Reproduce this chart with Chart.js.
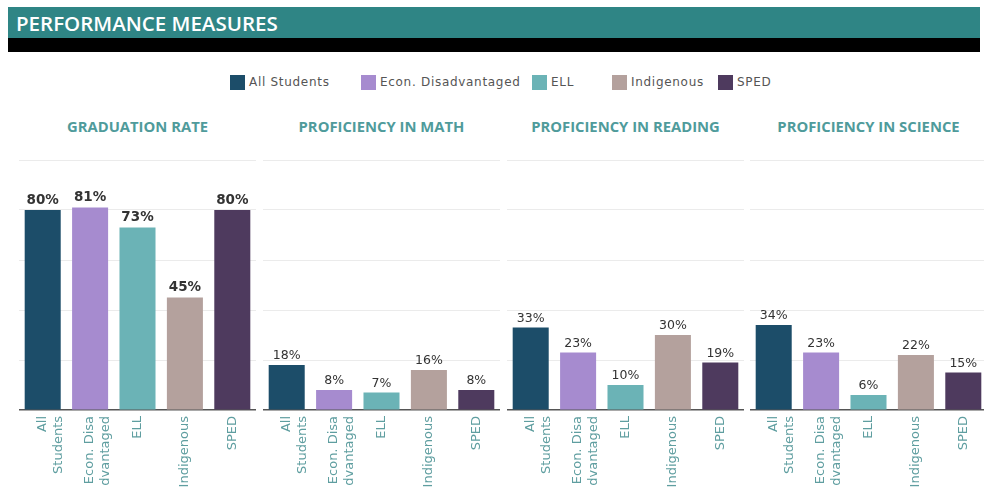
<!DOCTYPE html>
<html>
<head>
<meta charset="utf-8">
<script src="https://cdn.jsdelivr.net/npm/chart.js@4.4.1/dist/chart.umd.min.js"></script>
<style>
  html, body { margin: 0; padding: 0; background: #fff; }
  body { width: 984px; height: 498px; position: relative; overflow: hidden; font-family: "DejaVu Sans", sans-serif; }
  #header { position: absolute; left: 8px; top: 7px; width: 972px; height: 31px; background: #2f8585; }
  #header span { position: absolute; left: 8px; top: 2px; color: #fff; font: 600 20.5px "Open Sans", sans-serif; }
  #band { position: absolute; left: 8px; top: 38px; width: 972px; height: 14px; background: #000; }
  .legend-item { position: absolute; top: 75px; height: 15px; font-size: 12px; letter-spacing: 0.7px; color: #555; line-height: 15px; white-space: nowrap; }
  .legend-item i { display: inline-block; width: 15px; height: 15px; vertical-align: top; margin-right: 4px; }
  .panel-title { position: absolute; top: 116px; width: 237px; text-align: center; color: #4f9b9b; font: 700 14.8px "Open Sans", sans-serif; }
  canvas { position: absolute; }
</style>
</head>
<body>
<div id="header"><span>PERFORMANCE MEASURES</span></div>
<div id="band"></div>
<div id="legend"></div>
<div id="panels"></div>
<script>
// Données
const categories = [['All', 'Students'], ['Econ. Disa', 'dvantaged'], 'ELL', 'Indigenous', 'SPED'];
const groupNames = ['All Students', 'Econ. Disadvantaged', 'ELL', 'Indigenous', 'SPED'];
const groupColors = ['#1c4d69', '#a68bcf', '#6bb3b6', '#b4a19d', '#4e3a5e'];
const measureTitles = ['GRADUATION RATE', 'PROFICIENCY IN MATH', 'PROFICIENCY IN READING', 'PROFICIENCY IN SCIENCE'];
const graduation = [80, 81, 73, 45, 80];
const math = [18, 8, 7, 16, 8];
const reading = [33, 23, 10, 30, 19];
const science = [34, 23, 6, 22, 15];
const yTicks = [0, 20, 40, 60, 80, 100];

const measures = [graduation, math, reading, science];

// Mise en page
const legendLeft = [230, 361, 532, 612, 718];
const panelLeft = [19, 263, 507, 750];
const panelWidth = 237;

// Légende
const legend = document.getElementById('legend');
groupNames.forEach(function(name, i) {
    const item = document.createElement('div');
    item.className = 'legend-item';
    item.style.left = legendLeft[i] + 'px';
    item.innerHTML = '<i style="background:' + groupColors[i] + '"></i>' + name;
    legend.appendChild(item);
});

// Étiquettes de valeur au-dessus des barres
const valueLabels = {
    id: 'valueLabels',
    afterDatasetsDraw(chart, args, opts) {
        const ctx = chart.ctx;
        const meta = chart.getDatasetMeta(0);
        ctx.save();
        ctx.fillStyle = '#333';
        ctx.font = opts.font;
        ctx.textAlign = 'center';
        ctx.textBaseline = 'bottom';
        meta.data.forEach(function(bar, i) {
            ctx.fillText(chart.data.datasets[0].data[i] + '%', bar.x, bar.y - 3);
        });
        ctx.restore();
    }
};

const panels = document.getElementById('panels');
measures.forEach(function(values, p) {
    const title = document.createElement('div');
    title.className = 'panel-title';
    title.style.left = panelLeft[p] + 'px';
    title.textContent = measureTitles[p];
    panels.appendChild(title);

    const wrap = document.createElement('div');
    wrap.style.cssText = 'position:absolute;top:150px;left:' + panelLeft[p] + 'px;width:' + panelWidth + 'px;height:340px;';
    const canvas = document.createElement('canvas');
    wrap.appendChild(canvas);
    panels.appendChild(wrap);

    new Chart(canvas, {
        type: 'bar',
        data: {
            labels: categories,
            datasets: [{
                data: values,
                backgroundColor: groupColors,
                categoryPercentage: 1,
                barPercentage: 0.76
            }]
        },
        plugins: [valueLabels],
        options: {
            responsive: true,
            maintainAspectRatio: false,
            animation: false,
            layout: { padding: { top: 10, left: 0, right: 0, bottom: 0 } },
            plugins: {
                legend: { display: false },
                tooltip: { enabled: false },
                valueLabels: { font: p === 0 ? '600 13.5px "DejaVu Sans"' : '12.5px "DejaVu Sans"' }
            },
            scales: {
                x: {
                    grid: { display: false, drawTicks: false },
                    border: { display: true, color: '#555', width: 1.5 },
                    ticks: {
                        color: '#5f9ea0',
                        font: { family: 'DejaVu Sans', size: 13 },
                        minRotation: 90,
                        maxRotation: 90,
                        padding: 6,
                        autoSkip: false
                    },
                    afterFit: function(s) { s.height = 80; }
                },
                y: {
                    min: 0,
                    max: 100,
                    afterBuildTicks: function(s) { s.ticks = yTicks.map(function(v) { return { value: v }; }); },
                    ticks: { display: false },
                    border: { display: false },
                    grid: {
                        drawTicks: false,
                        color: function(c) { return c.tick && c.tick.value === 0 ? 'rgba(0,0,0,0)' : '#ebebeb'; }
                    },
                    afterFit: function(s) { s.width = 0; }
                }
            }
        }
    });
});
</script>
</body>
</html>
